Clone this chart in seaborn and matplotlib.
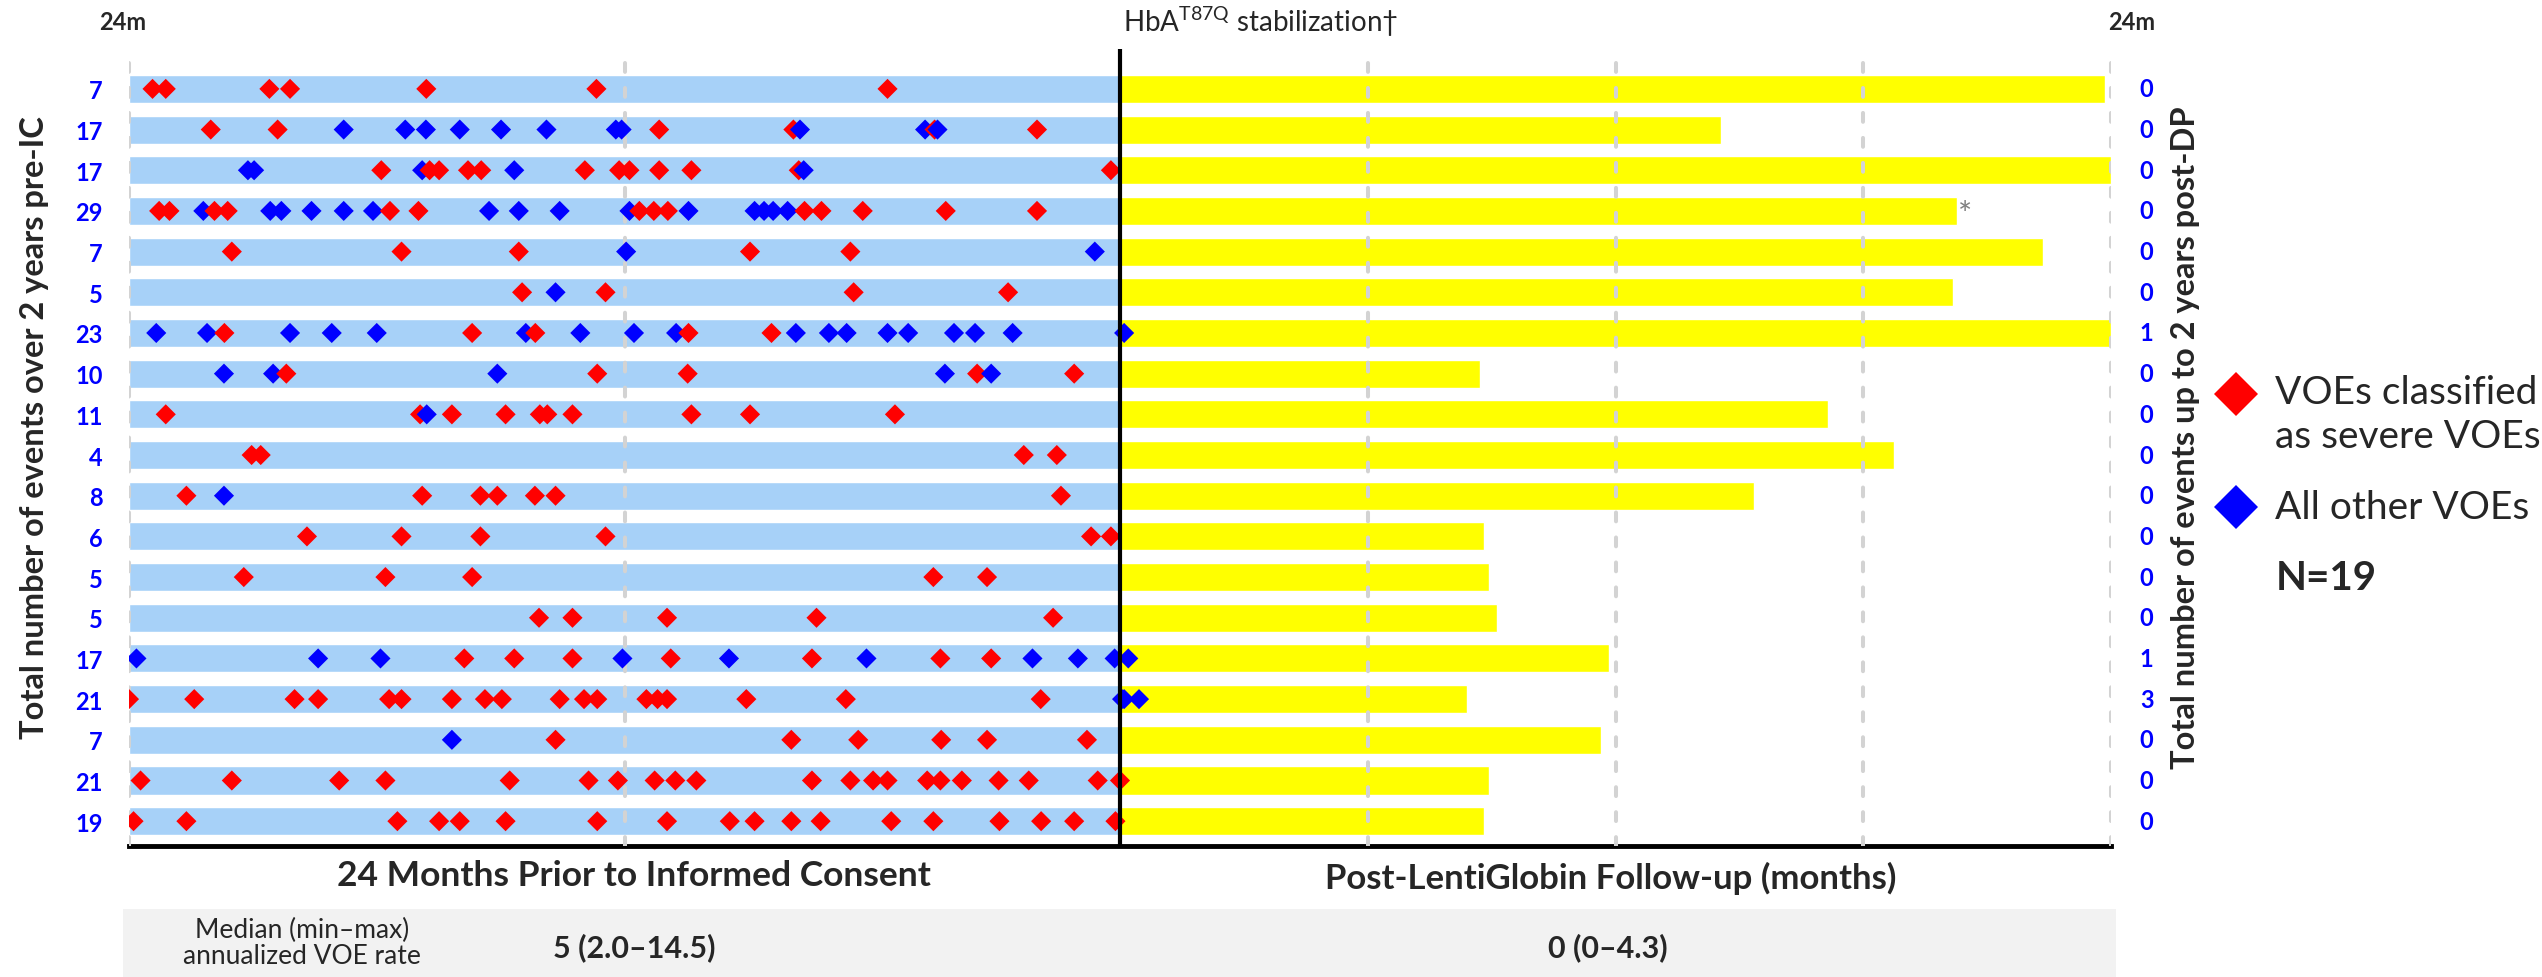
import numpy as np
import pandas as pd
import matplotlib.pyplot as plt
import seaborn as sns
from matplotlib.lines import Line2D
from matplotlib.patches import Rectangle

# Per-patient data (19 patients, top to bottom); event times in months relative to IC / DP
pre_counts = [7, 17, 17, 29, 7, 5, 23, 10, 11, 4, 8, 6, 5, 5, 17, 21, 7, 21, 19]
post_counts = [0, 0, 0, 0, 0, 0, 1, 0, 0, 0, 0, 0, 0, 0, 1, 3, 0, 0, 0]
followup_months = [23.86, 14.55, 24.0, 20.26, 22.35, 20.17, 24.0, 8.72, 17.14, 18.74,
                   15.35, 8.81, 8.93, 9.13, 11.84, 8.4, 11.66, 8.93, 8.81]

severe_voe = [
    [-23.43, -23.11, -20.6, -20.1, -16.8, -12.68, -5.63],
    [-22.02, -20.4, -11.16, -7.91, -4.49, -2.01],
    [-17.89, -16.72, -16.49, -15.79, -15.47, -12.96, -12.13, -11.88, -11.16, -10.38, -7.78, -0.22],
    [-23.27, -23.02, -21.93, -21.61, -17.68, -16.99, -11.64, -11.29, -10.95, -7.64, -7.23, -6.23, -4.22, -2.01],
    [-21.51, -17.4, -14.56, -8.96, -6.53],
    [-14.48, -12.46, -6.45, -2.71],
    [-21.69, -15.69, -14.16, -10.45, -8.44],
    [-20.19, -12.66, -10.47, -3.46, -1.11],
    [-23.11, -16.95, -16.18, -14.88, -14.05, -13.87, -13.26, -10.38, -8.96, -5.45],
    [-21.03, -20.81, -2.33, -1.53],
    [-22.61, -16.9, -15.49, -15.08, -14.17, -13.67, -1.43],
    [-19.69, -17.4, -15.49, -12.46, -0.7, -0.22],
    [-21.22, -17.79, -15.69, -4.52, -3.22],
    [-14.07, -13.26, -10.97, -7.35, -1.62],
    [-15.88, -14.67, -13.26, -10.88, -7.46, -4.35, -3.12],
    [-24.0, -22.42, -19.99, -19.42, -17.7, -17.4, -16.18, -15.38, -14.97, -13.57, -12.98,
     -12.66, -11.47, -11.2, -10.97, -9.05, -6.64, -1.92],
    [-13.67, -7.96, -6.34, -4.33, -3.22, -0.8],
    [-23.72, -21.51, -18.91, -17.79, -14.78, -12.87, -12.16, -11.27, -10.77, -10.26, -7.46,
     -6.53, -5.98, -5.63, -4.67, -4.35, -3.83, -2.94, -2.21, -0.54, 0.0],
    [-23.89, -22.61, -17.5, -16.49, -15.99, -14.88, -12.66, -10.97, -9.45, -8.85, -7.96,
     -7.25, -5.54, -4.52, -2.92, -1.91, -1.11, -0.11],
]

other_voe = [
    [],
    [-18.8, -17.31, -16.81, -15.99, -14.99, -13.89, -12.21, -12.07, -7.75, -4.72, -4.42],
    [-21.12, -20.97, -16.9, -14.67, -7.66],
    [-22.2, -20.58, -20.31, -19.58, -18.8, -18.09, -15.28, -14.56, -13.57, -11.88, -10.45,
     -8.85, -8.62, -8.4, -8.05],
    [-11.96, -0.61],
    [-13.67],
    [-23.34, -22.11, -20.1, -19.09, -18.0, -14.39, -13.07, -11.77, -10.75, -7.85, -7.05,
     -6.62, -5.63, -5.13, -4.02, -3.51, -2.6, 0.1],
    [-21.7, -20.51, -15.08, -4.24, -3.12],
    [-16.79],
    [],
    [-21.7],
    [], [], [],
    [-23.82, -19.42, -17.91, -12.05, -9.47, -6.14, -2.12, -1.02, -0.13, 0.2],
    [0.05, 0.1, 0.46],
    [-16.18],
    [], [],
]

severe_label = "VOEs classified\nas severe VOEs"
other_label = "All other VOEs"
red = "#FF0000"
blue = "#0000FF"

# long-format event table, sorted so overlaps stack in time order
records = []
for i in range(len(pre_counts)):
    for m in severe_voe[i]:
        records.append((i, m, severe_label))
    for m in other_voe[i]:
        records.append((i, m, other_label))
events = pd.DataFrame(records, columns=["row", "month", "kind"]).sort_values(["row", "month"])

bars = pd.DataFrame({"row": range(len(pre_counts)),
                     "pre": [-24] * len(pre_counts),
                     "post": followup_months})

sns.set_style("white")
plt.rcParams["font.family"] = ["Lato", "DejaVu Sans"]
plt.rcParams["mathtext.fontset"] = "custom"
plt.rcParams["mathtext.rm"] = "Lato"

W, H = 2542, 978
fig = plt.figure(figsize=(W / 100, H / 100), dpi=100)
ax = fig.add_axes([129 / W, 1 - 847 / H, (2111 - 129) / W, (847 - 50) / H])

sns.barplot(data=bars, x="pre", y="row", orient="h", color="#A7D1F8", width=0.69,
            errorbar=None, saturation=1, ax=ax, zorder=1)
sns.barplot(data=bars, x="post", y="row", orient="h", color="#FFFF00", width=0.69,
            errorbar=None, saturation=1, ax=ax, zorder=1)

sns.scatterplot(data=events, x="month", y="row", hue="kind",
                palette={severe_label: red, other_label: blue},
                marker="D", s=105, linewidth=0, legend=False, ax=ax, zorder=3)

ax.set_xlim(-24, 24)
ax.set_ylim(len(pre_counts) - 1 + 0.61, -0.98)

# dashed month grid, solid line at time zero
ax.set_xticks([-24, -12, 6, 12, 18, 24])
ax.set_xticklabels([])
ax.tick_params(axis="x", length=0)
ax.set_axisbelow(False)
ax.grid(axis="x", color="#D3D3D3", lw=2.9, linestyle=(0, (2.2, 4.0)), dash_capstyle="round")
ax.axvline(0, color="black", lw=3, zorder=4)

ax.set_yticks(range(len(pre_counts)))
ax.set_yticklabels(pre_counts, color=blue, fontweight="bold", fontsize=17)
ax.tick_params(axis="y", length=0, pad=19)
ax.set_xlabel("")
ax.set_ylabel("")

for s in ["top", "right", "left"]:
    ax.spines[s].set_visible(False)
ax.spines["bottom"].set_color("black")
ax.spines["bottom"].set_linewidth(3.5)

for i, n in enumerate(post_counts):
    ax.text(1.018, i, str(n), transform=ax.get_yaxis_transform(), ha="center", va="center",
            color=blue, fontweight="bold", fontsize=17)

ax.text(followup_months[3] + 0.2, 3.1, "*", color="#808080", fontsize=24, ha="center", va="center")

# axis titles and annotations
fig.text(123 / W, 1 - 22 / H, "24m", ha="center", va="center", fontsize=17, fontweight="bold")
fig.text(2132 / W, 1 - 22 / H, "24m", ha="center", va="center", fontsize=17, fontweight="bold")
fig.text(1123 / W, 1 - 22 / H, r"HbA$^{\mathrm{T87Q}}$ stabilization†", ha="left", va="center", fontsize=20)

fig.text(35 / W, 1 - 428 / H, "Total number of events over 2 years pre-IC", rotation=90,
         ha="center", va="center", fontsize=23.5, fontweight="bold")
fig.text(2186 / W, 1 - 438 / H, "Total number of events up to 2 years post-DP", rotation=90,
         ha="center", va="center", fontsize=23.5, fontweight="bold")

fig.text(634 / W, 1 - 876 / H, "24 Months Prior to Informed Consent", ha="center", va="center",
         fontsize=25.5, fontweight="bold")
fig.text(1611 / W, 1 - 878 / H, "Post-LentiGlobin Follow-up (months)", ha="center", va="center",
         fontsize=25, fontweight="bold")

# summary strip
fig.add_artist(Rectangle((123 / W, 0), (2116 - 123) / W, 68 / H, transform=fig.transFigure,
                         facecolor="#F2F2F2", edgecolor="none", zorder=0))
fig.text(302 / W, 1 - 943 / H, "Median (min–max)\nannualized VOE rate", ha="center", va="center",
         fontsize=19, linespacing=1.05)
fig.text(634 / W, 1 - 948 / H, "5 (2.0–14.5)", ha="center", va="center", fontsize=22, fontweight="bold")
fig.text(1608 / W, 1 - 948 / H, "0 (0–4.3)", ha="center", va="center", fontsize=22, fontweight="bold")

# legend (placed by hand next to the right axis title)
for yc, col in [(395, red), (508, blue)]:
    fig.add_artist(Line2D([2236 / W], [1 - yc / H], transform=fig.transFigure, marker="D", ls="",
                          markerfacecolor=col, markeredgewidth=0, markersize=22))
fig.text(2275 / W, 1 - 415 / H, severe_label, ha="left", va="center", fontsize=28, linespacing=1.3)
fig.text(2275 / W, 1 - 508 / H, other_label, ha="left", va="center", fontsize=28)
fig.text(2276 / W, 1 - 578 / H, "N=19", ha="left", va="center", fontsize=29, fontweight="bold")

fig.savefig("out.png", dpi=100)
